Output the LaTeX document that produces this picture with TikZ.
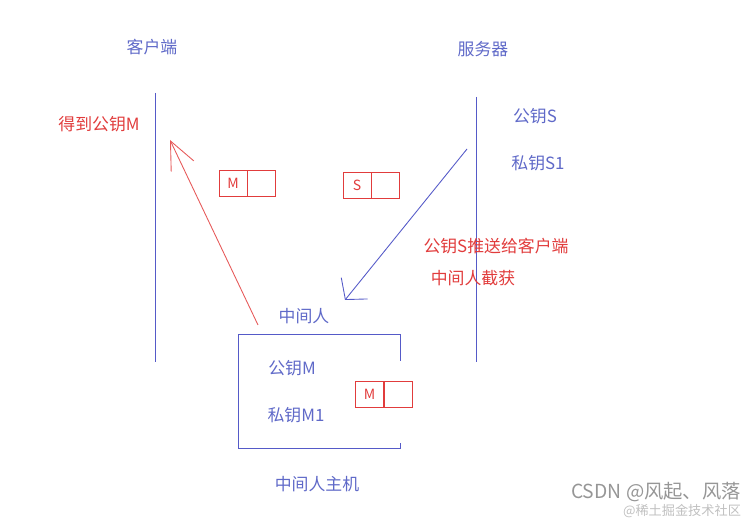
\documentclass[tikz,border=0pt]{standalone}
\usepackage{fontspec}
\newfontfamily\cjkfont{Noto Sans CJK SC}
\usetikzlibrary{arrows.meta}
\usetikzlibrary{positioning}
\definecolor{lineblue}{RGB}{85,90,200}
\definecolor{textblue}{RGB}{95,105,200}
\definecolor{keyred}{RGB}{225,60,60}
\definecolor{markgray}{RGB}{150,150,150}
\tikzstyle{lbl}=[font=\cjkfont\fontsize{9.6}{11}\selectfont, inner sep=0pt]
\tikzstyle{bluetext}=[lbl, text=textblue]
\tikzstyle{redtext}=[lbl, text=keyred]
\tikzstyle{lifeline}=[draw=lineblue, line width=0.5pt]
\tikzstyle{keycell}=[draw=keyred, line width=0.5pt, minimum width=5.6mm,
minimum height=5.2mm, inner sep=0pt, text=keyred, font=\cjkfont\fontsize{8}{9}\selectfont]
\tikzstyle{redarrow}=[-{Straight Barb[length=5.6mm,width=5mm]}, draw=keyred!85, line width=0.5pt]
\tikzstyle{bluearrow}=[-{Straight Barb[length=2.9mm,width=6.8mm]}, draw=lineblue, line width=0.5pt]
\tikzstyle{watermark}=[inner sep=0pt, font=\cjkfont\fontsize{11}{12}\selectfont, text=markgray]
\begin{document}
\begin{tikzpicture}[x=0.02cm, y=-0.02cm]

    \useasboundingbox (0,0) rectangle (753,519);

    % two ends
    \node[bluetext] (client) at (152,47) {客户端};
    \node[bluetext] (server) at (483,49) {服务器};
    \draw[lifeline] (155,93) -- (155,362);
    \draw[lifeline] (476,97) -- (476,362);

    \node[bluetext] (spub) at (535,116) {公钥S};
    \node[bluetext] (spriv) at (538,163) {私钥S1};
    \node[redtext] (gotm) at (99,124) {得到公钥M};

    % keys on the wire
    \node[keycell] (mleft) at (233,183) {M};
    \node[keycell, right=0pt of mleft] (mright) {};
    \node[keycell] (sleft) at (357,185) {S};
    \node[keycell, right=0pt of sleft] (sright) {};

    \node[redtext] (push) at (496,246) {公钥S推送给客户端};
    \node[redtext] (catch) at (473,278) {中间人截获};

    % middle man host
    \node[bluetext] (mid) at (304,316) {中间人};
    \draw[lifeline] (400,361) -- (400,334) -- (238,334) -- (238,448) -- (400,448) -- (400,443);
    \node[bluetext] (mpub) at (292,368) {公钥M};
    \node[bluetext] (mpriv) at (296,415) {私钥M1};
    \node[keycell] (hleft) at (369.5,394) {M};
    \node[keycell, right=0pt of hleft] (hright) {};
    \node[bluetext] (host) at (317,484) {中间人主机};

    % arrows
    \coordinate (sstart) at (467,149);
    \coordinate (send) at (345,300);
    \draw[bluearrow] (sstart) -- (send);
    \coordinate (mstart) at (258,325);
    \coordinate (mend) at (170,140);
    \draw[redarrow] (mstart) -- (mend);

    \node[watermark] (mark1) at (656,492) {CSDN @风起、风落};
    \node[watermark, text=markgray!60, font=\cjkfont\fontsize{7.5}{9}\selectfont, below=1pt of mark1.south east, anchor=north east] (mark2) {@稀土掘金技术社区};
\end{tikzpicture}
\end{document}
